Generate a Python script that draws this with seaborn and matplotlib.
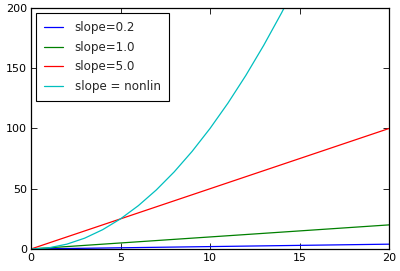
import numpy as np
import pandas as pd
import matplotlib
matplotlib.use("Agg")
import matplotlib.pyplot as plt
import seaborn as sns

x = [0, 1, 2, 3, 4, 5, 6, 7, 8, 9, 10, 11, 12, 13, 14, 15, 16, 17, 18, 19, 20]
y_02 = [0, 0.2, 0.4, 0.6, 0.8, 1.0, 1.2, 1.4, 1.6, 1.8, 2.0, 2.2, 2.4, 2.6, 2.8, 3.0, 3.2, 3.4, 3.6, 3.8, 4.0]
y_10 = [0, 1, 2, 3, 4, 5, 6, 7, 8, 9, 10, 11, 12, 13, 14, 15, 16, 17, 18, 19, 20]
y_50 = [0, 5, 10, 15, 20, 25, 30, 35, 40, 45, 50, 55, 60, 65, 70, 75, 80, 85, 90, 95, 100]
y_nl = [0, 1, 4, 9, 16, 25, 36, 49, 64, 81, 100, 121, 144, 169, 196, 225, 256, 289, 324, 361, 400]
labels = ["slope=0.2", "slope=1.0", "slope=5.0", "slope = nonlin"]
colors = ["#0000ff", "#008000", "#ff0000", "#00bfbf"]

frames = []
for lab, ys in zip(labels, [y_02, y_10, y_50, y_nl]):
    frames.append(pd.DataFrame({"x": x, "y": ys, "series": lab}))
df = pd.concat(frames, ignore_index=True)

sns.set_style("ticks")
plt.rcParams["font.family"] = ["DejaVu Sans"]

fig = plt.figure(figsize=(4.0, 2.71), dpi=100)
ax = fig.add_axes([0.0775, 0.0812, 0.895, 0.8893])

sns.lineplot(data=df, x="x", y="y", hue="series", hue_order=labels,
             palette=colors, linewidth=0.9, ax=ax, sort=False, estimator=None)

ax.set_xlim(0, 20)
ax.set_ylim(0, 200)
ax.set_xticks([0, 5, 10, 15, 20])
ax.set_yticks([0, 50, 100, 150, 200])
ax.set_xlabel("")
ax.set_ylabel("")
ax.tick_params(direction="in", length=4, width=0.6, top=True, right=True,
               labelsize=8, pad=3, colors="black")
for s in ax.spines.values():
    s.set_visible(True)
    s.set_color("black")
    s.set_linewidth(0.9)

leg = ax.legend(loc="upper left", fontsize=8.6, frameon=True, fancybox=False,
                edgecolor="black", framealpha=1, handlelength=1.6,
                handletextpad=0.95, borderpad=0.7, labelspacing=0.55,
                borderaxespad=0.4)
leg.get_frame().set_linewidth(0.8)
for line in leg.get_lines():
    line.set_linewidth(0.9)

fig.savefig("out.png", dpi=100)
